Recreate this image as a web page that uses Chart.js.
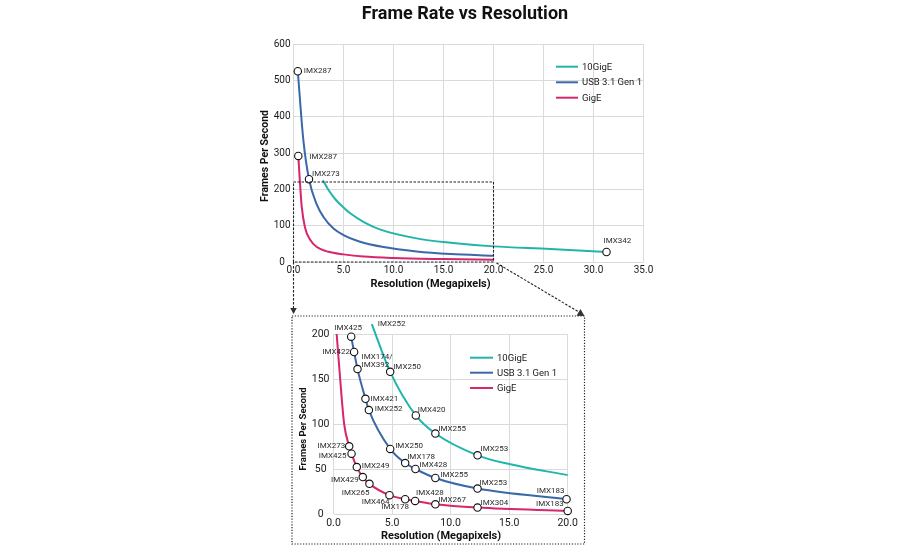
<!DOCTYPE html>
<html><head><meta charset="utf-8">
<script src="https://cdn.jsdelivr.net/npm/chart.js@4.4.1/dist/chart.umd.min.js"></script>
<style>
html,body{margin:0;padding:0;background:#fff;}
body{width:900px;height:550px;position:relative;overflow:hidden;}
#main{position:absolute;left:0;top:0;}
#inset{position:absolute;left:292px;top:315px;}
</style></head>
<body>
<canvas id="main" width="900" height="550" style="width:900px;height:550px"></canvas>
<canvas id="inset" width="294" height="231" style="width:294px;height:231px"></canvas>
<script>
// ---------------- DATA ----------------
const mainTitle = 'Frame Rate vs Resolution';
const yTitle = 'Frames Per Second';
const xTitle = 'Resolution (Megapixels)';
const seriesNames = ['10GigE', 'USB 3.1 Gen 1', 'GigE'];

// main chart (0–35 MP) curves
const mainTenX  = [2.94, 3.5, 4.2, 5.0, 5.67, 7.03, 8.7, 12.3, 15.7, 20.0, 25.7, 31.3];
const mainTenY  = [225, 198, 172, 150, 134, 110, 89, 65, 53, 43, 36, 27.5];
const mainUsbX  = [0.43, 0.98, 1.55, 2.3, 3.0, 4.0, 5.0, 6.5, 9.0, 12.3, 15.7, 20.0];
const mainUsbY  = [525, 337, 228, 160, 124, 92, 74, 57, 41, 29, 22, 17.4];
const mainGigeX = [0.48, 0.65, 0.82, 1.15, 1.65, 2.3, 3.5, 5.0, 7.0, 10.0, 15.0, 20.0];
const mainGigeY = [292, 217, 153, 95, 62, 42, 28, 21, 15, 11, 8, 6];

// main chart labelled sensors
const mainUsbMarkNames = ['IMX287', 'IMX273'];
const mainUsbMarkX = [0.43, 1.55];
const mainUsbMarkY = [525, 228];
const mainGigeMarkNames = ['IMX287'];
const mainGigeMarkX = [0.48];
const mainGigeMarkY = [292];
const mainTenMarkNames = ['IMX342'];
const mainTenMarkX = [31.3];
const mainTenMarkY = [27.5];

// zoomed region shown in the inset
const zoomXMax = 20;
const zoomYMax = 220;

// inset (0–20 MP) sensors
const usbNames = ['IMX425','IMX422','IMX174/\nIMX392','IMX421','IMX252','IMX250','IMX178','IMX428','IMX255','IMX253','IMX183'];
const usbX = [1.51, 1.76, 2.05, 2.73, 3.02, 4.84, 6.12, 7.0, 8.7, 12.3, 19.9];
const usbY = [197, 180, 161, 128, 115.5, 72.3, 56.6, 50, 40, 28.3, 16.4];
const tenNames = ['IMX252','IMX250','IMX420','IMX255','IMX253'];
const tenX = [3.27, 4.84, 7.03, 8.7, 12.3];
const tenY = [211, 158, 109.5, 89.4, 65.2];
const tenTailX = [15.0, 20.0];
const tenTailY = [55.5, 43.2];
const gigeNames = ['IMX273','IMX425','IMX249','IMX429','IMX265','IMX464','IMX178','IMX428','IMX267','IMX304','IMX183'];
const gigeX = [1.34, 1.54, 1.99, 2.5, 3.07, 4.78, 6.12, 6.97, 8.7, 12.3, 20.0];
const gigeY = [75.2, 67, 52.1, 41, 33.5, 20.9, 16.4, 14.5, 10.8, 7.1, 3.4];
const gigeHeadX = [0.27, 0.57, 0.91];
const gigeHeadY = [200, 150, 100];

// ---------------- STYLE / LAYOUT ----------------
const FONT = 'Roboto, "DejaVu Sans", sans-serif';
Chart.defaults.font.family = FONT;
Chart.defaults.color = '#1a1a1a';
Chart.defaults.animation = false;
const COLORS = {ten: '#20b5aa', usb: '#3a68a8', gige: '#d7266b'};
const GRID = '#dadada';

// label offsets [dx, dy, align] relative to marker centre (pixels)
const usbLabelPos = [[-3,-9,'center'],[-4,0,'right'],[4,-12,'left'],[5,0,'left'],[6,-1,'left'],[5,-3,'left'],[2,-6,'left'],[4,-4,'left'],[5,-3,'left'],[2,-6,'left'],[-2,-8,'right']];
const tenLabelPos = [[6,0,'left'],[3,-5,'left'],[2,-5,'left'],[3,-5,'left'],[3,-6,'left']];
const gigeLabelPos = [[-4,0,'right'],[-5,2,'right'],[5,-1,'left'],[-4,3,'right'],[0,9,'right'],[0,7,'right'],[-10,8,'center'],[1,-8,'left'],[3,-4,'left'],[3,-5,'left'],[-4,-7,'right']];
const mainUsbLabelPos = [[6,0,'left'],[3,-5,'left']];
const mainGigeLabelPos = [[11,1,'left']];
const mainTenLabelPos = [[-3,-11,'left']];

function pts(xs, ys) { return xs.map((x, i) => ({x: x, y: ys[i]})); }
function lineDS(xs, ys, color) {
  return {data: pts(xs, ys), showLine: true, borderColor: color, backgroundColor: color,
    borderWidth: 2, pointRadius: 0, pointHoverRadius: 0, cubicInterpolationMode: 'monotone',
    clip: false, order: 2};
}
function markDS(xs, ys, names, pos) {
  return {data: pts(xs, ys), showLine: false, pointRadius: 3.7, pointHoverRadius: 3.7,
    pointBackgroundColor: '#fff', pointBorderColor: '#111', pointBorderWidth: 1.1,
    clip: false, order: 1, sensorNames: names, labelPos: pos};
}

const labelPlugin = {
  id: 'sensorLabels',
  afterDatasetsDraw(chart, args, o) {
    const ctx = chart.ctx;
    ctx.save();
    ctx.font = o.font;
    ctx.fillStyle = '#2a2a2a';
    ctx.textBaseline = 'middle';
    chart.data.datasets.forEach((ds, i) => {
      if (!ds.sensorNames) return;
      const meta = chart.getDatasetMeta(i);
      ds.sensorNames.forEach((name, j) => {
        const el = meta.data[j];
        const p = ds.labelPos[j];
        ctx.textAlign = p[2];
        name.split('\n').forEach((line, k) => ctx.fillText(line, el.x + p[0], el.y + p[1] + k * o.lineHeight));
      });
    });
    ctx.restore();
  }
};

function drawText(ctx, str, x, y, font, rot, color) {
  ctx.save();
  ctx.translate(x, y);
  if (rot) ctx.rotate(rot);
  ctx.font = font;
  ctx.fillStyle = color || '#111';
  ctx.textAlign = 'center';
  ctx.textBaseline = 'middle';
  ctx.fillText(str, 0, 0);
  ctx.restore();
}
function drawLegend(ctx, x0, x1, tx, ys, font) {
  const cols = [COLORS.ten, COLORS.usb, COLORS.gige];
  ctx.save();
  ctx.font = font;
  ctx.textAlign = 'left';
  ctx.textBaseline = 'middle';
  seriesNames.forEach((n, i) => {
    ctx.strokeStyle = cols[i];
    ctx.lineWidth = 2;
    ctx.beginPath(); ctx.moveTo(x0, ys[i]); ctx.lineTo(x1, ys[i]); ctx.stroke();
    ctx.fillStyle = '#1a1a1a';
    ctx.fillText(n, tx, ys[i] + 0.5);
  });
  ctx.restore();
}
function arrowHead(ctx, x0, y0, x1, y1, size) {
  const a = Math.atan2(y1 - y0, x1 - x0);
  ctx.beginPath();
  ctx.moveTo(x1, y1);
  ctx.lineTo(x1 - size * Math.cos(a) + size * 0.55 * Math.sin(a), y1 - size * Math.sin(a) - size * 0.55 * Math.cos(a));
  ctx.lineTo(x1 - size * Math.cos(a) - size * 0.55 * Math.sin(a), y1 - size * Math.sin(a) + size * 0.55 * Math.cos(a));
  ctx.closePath();
  ctx.fill();
}

const INSET_BOX = {l: 292, t: 316, r: 584.5, b: 544};

const mainDecor = {
  id: 'mainDecor',
  afterDraw(chart) {
    const ctx = chart.ctx;
    const xs = chart.scales.x, ys = chart.scales.y;
    drawText(ctx, mainTitle, 465, 14, 'bold 18px ' + FONT);
    drawText(ctx, yTitle, 265.5, 156, 'bold 10.5px ' + FONT, -Math.PI / 2);
    drawText(ctx, xTitle, 430.5, 284, 'bold 11px ' + FONT);
    drawLegend(ctx, 556, 578, 582, [66.7, 82.3, 97.7], '9.5px ' + FONT);
    const x0 = xs.getPixelForValue(0), x1 = xs.getPixelForValue(zoomXMax);
    const y0 = ys.getPixelForValue(0), y1 = ys.getPixelForValue(zoomYMax);
    ctx.save();
    ctx.strokeStyle = '#222';
    ctx.fillStyle = '#333';
    ctx.lineWidth = 1.1;
    ctx.setLineDash([2.5, 1.5]);
    ctx.strokeRect(x0, y1, x1 - x0, y0 - y1);
    // arrows
    ctx.beginPath(); ctx.moveTo(x0, y0); ctx.lineTo(x0, INSET_BOX.t - 6); ctx.stroke();
    ctx.beginPath(); ctx.moveTo(x1 + 3, y0 + 1); ctx.lineTo(INSET_BOX.r - 4, INSET_BOX.t - 3); ctx.stroke();
    ctx.setLineDash([]);
    arrowHead(ctx, x0, y0, x0, INSET_BOX.t - 2, 6);
    arrowHead(ctx, x1 + 3, y0 + 1, INSET_BOX.r, INSET_BOX.t, 7);
    // inset frame
    ctx.setLineDash([1.2, 1.6]);
    ctx.lineWidth = 1.2;
    ctx.strokeRect(INSET_BOX.l, INSET_BOX.t, INSET_BOX.r - INSET_BOX.l, INSET_BOX.b - INSET_BOX.t);
    ctx.restore();
  }
};

const insetDecor = {
  id: 'insetDecor',
  afterDraw(chart) {
    const ctx = chart.ctx;
    drawText(ctx, yTitle, 11.5, 114, 'bold 9.5px ' + FONT, -Math.PI / 2);
    drawText(ctx, xTitle, 149, 221.5, 'bold 11px ' + FONT);
    drawLegend(ctx, 178, 201, 205, [42.7, 57.7, 73], '9.5px ' + FONT);
  }
};

function axisOpts(min, max, step, size, pad, w, h) {
  return {
    x: {type: 'linear', min: min[0], max: max[0],
      ticks: {stepSize: step[0], callback: v => v.toFixed(1), font: {size: size}, padding: pad[0], color: '#1a1a1a'},
      grid: {color: GRID, lineWidth: 1, drawTicks: false}, border: {display: false},
      afterFit: s => { s.height = h; }},
    y: {type: 'linear', min: min[1], max: max[1],
      ticks: {stepSize: step[1], font: {size: size}, padding: pad[1], crossAlign: 'center', color: '#1a1a1a'},
      grid: {color: GRID, lineWidth: 1, drawTicks: false}, border: {display: false},
      afterFit: s => { s.width = w; }}
  };
}

new Chart(document.getElementById('main'), {
  type: 'scatter',
  data: {datasets: [
    markDS(mainUsbMarkX, mainUsbMarkY, mainUsbMarkNames, mainUsbLabelPos),
    markDS(mainGigeMarkX, mainGigeMarkY, mainGigeMarkNames, mainGigeLabelPos),
    markDS(mainTenMarkX, mainTenMarkY, mainTenMarkNames, mainTenLabelPos),
    lineDS(mainTenX, mainTenY, COLORS.ten),
    lineDS(mainUsbX, mainUsbY, COLORS.usb),
    lineDS(mainGigeX, mainGigeY, COLORS.gige)
  ]},
  options: {
    responsive: false, animation: false, events: [],
    layout: {padding: {left: 253.5, right: 256.5, top: 44, bottom: 268}},
    scales: axisOpts([0, 0], [35, 600], [5, 100], 10, [2, 3], 40, 20),
    plugins: {legend: {display: false}, tooltip: {enabled: false},
      sensorLabels: {font: '8px ' + FONT, lineHeight: 7.5}}
  },
  plugins: [labelPlugin, mainDecor]
});

new Chart(document.getElementById('inset'), {
  type: 'scatter',
  data: {datasets: [
    markDS(usbX, usbY, usbNames, usbLabelPos),
    markDS(tenX, tenY, tenNames, tenLabelPos),
    markDS(gigeX, gigeY, gigeNames, gigeLabelPos),
    lineDS(tenX.concat(tenTailX), tenY.concat(tenTailY), COLORS.ten),
    lineDS(usbX, usbY, COLORS.usb),
    lineDS(gigeHeadX.concat(gigeX), gigeHeadY.concat(gigeY), COLORS.gige)
  ]},
  options: {
    responsive: false, animation: false, events: [],
    layout: {padding: {left: 11.5, right: 18.3, top: 19, bottom: 17}},
    scales: axisOpts([0, 0], [20, 200], [5, 50], 10.5, [3, 4], 30, 15),
    plugins: {legend: {display: false}, tooltip: {enabled: false},
      sensorLabels: {font: '8px ' + FONT, lineHeight: 7.5}}
  },
  plugins: [labelPlugin, insetDecor]
});
</script>
</body></html>
